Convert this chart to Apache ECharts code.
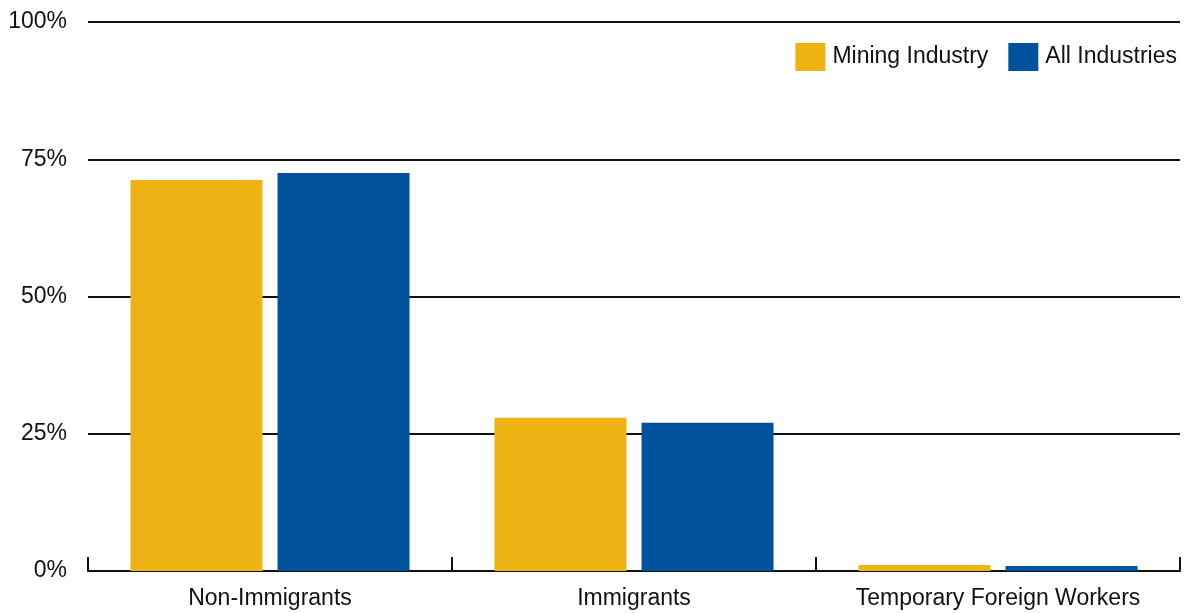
<!DOCTYPE html>
<html><head><meta charset="utf-8">
<script src="https://cdn.jsdelivr.net/npm/echarts@6/dist/echarts.min.js"></script>
<style>html,body{margin:0;padding:0;background:#fff}#c{width:1188px;height:613px}</style>
</head><body><div id="c"></div>
<script>
const categories = ["Non-Immigrants", "Immigrants", "Temporary Foreign Workers"];
const mining = [71.2, 27.9, 1.1];
const allInd = [72.5, 27.0, 0.9];
const yTicks = [0, 25, 50, 75, 100];
const FONT = '"Liberation Sans Narrow", "Arial Narrow", "Liberation Sans", Arial, sans-serif';
const chart = echarts.init(document.getElementById('c'));
chart.setOption({
  animation: false,
  textStyle: {fontFamily: FONT},
  grid: {left: 88, right: 8, top: 22, bottom: 42, containLabel: false},
  legend: {
    right: 6, top: 38, itemWidth: 30, itemHeight: 28, itemGap: 20,
    icon: 'rect',
    textStyle: {fontFamily: FONT, fontSize: 23, color: '#111', padding: [0,0,0,2]},
    data: ['Mining Industry', 'All Industries']
  },
  xAxis: {
    type: 'category', data: categories,
    axisLine: {lineStyle: {color: '#111', width: 2}},
    axisTick: {show: true, inside: true, length: 14, interval: 0, lineStyle: {color: '#111', width: 2}},
    axisLabel: {fontFamily: FONT, fontSize: 23, color: '#111', margin: 16, interval: 0}
  },
  yAxis: {
    type: 'value', min: 0, max: 100, interval: 25,
    axisLine: {show: false}, axisTick: {show: false},
    axisLabel: {fontFamily: FONT, fontSize: 23, color: '#111', margin: 21,
      formatter: v => yTicks.includes(v) ? v + '%' : ''},
    splitLine: {lineStyle: {color: '#111', width: 2}}
  },
  series: [
    {name: 'Mining Industry', type: 'bar', data: mining, barWidth: 132, barGap: '11.4%',
     itemStyle: {color: '#EFB414'}},
    {name: 'All Industries', type: 'bar', data: allInd, barWidth: 132,
     itemStyle: {color: '#00529C'}}
  ]
});
</script></body></html>
